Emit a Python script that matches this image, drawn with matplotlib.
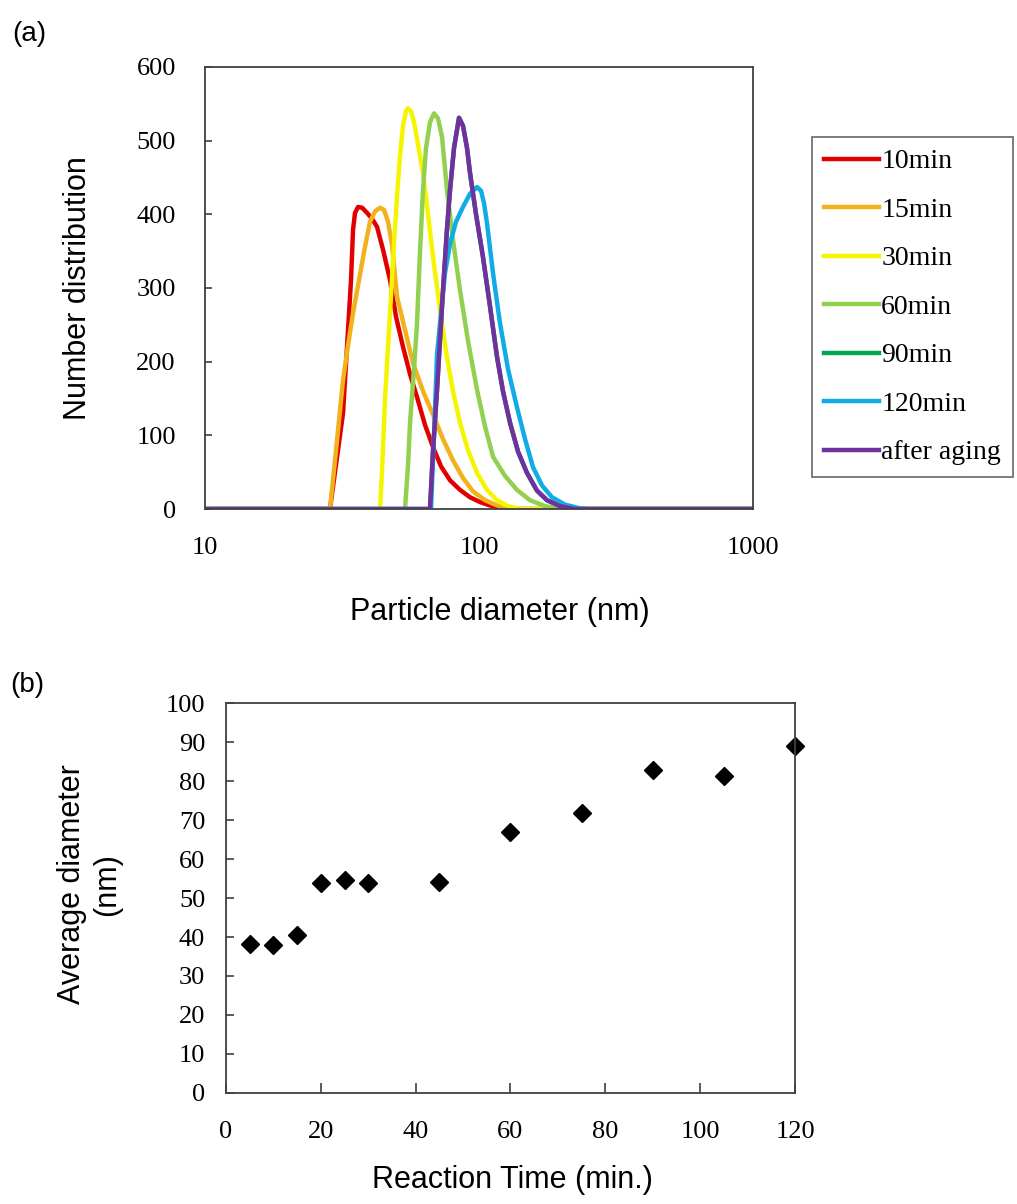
import matplotlib
matplotlib.use("Agg")
import matplotlib.pyplot as plt

# ---- panel (a): number distribution vs particle diameter ----
d_10 = [10, 28.58, 31.89, 32.98, 34.11, 34.69, 35.28, 36.18, 37.41, 39.02, 40.70, 42.44,
        44.63, 47.33, 49.78, 52.80, 56.01, 59.38, 63.54, 67.95, 72.65, 78.39, 85.25,
        92.73, 100.8, 109.7, 121.3, 135.3, 1000]
n_10 = [0, 0, 130, 220, 311, 379, 402, 410, 409, 402, 394, 383,
        352, 311, 261, 220, 183, 152, 114, 84, 58, 39, 26,
        16, 9.5, 4.8, 1.4, 0, 0]

d_15 = [10, 28.58, 30.07, 31.89, 33.26, 34.69, 36.48, 38.37, 40.02, 41.74, 43.52, 45.01,
        46.55, 48.14, 50.21, 53.70, 57.42, 62.46, 67.95, 73.89, 80.38, 87.43, 95.08,
        105.2, 116.4, 129.8, 141.1, 1000]
n_15 = [0, 0, 80, 175, 222, 266, 311, 356, 390, 404, 409, 406,
        390, 358, 288, 243, 198, 160, 128, 95, 66, 42, 24,
        12, 5, 1, 0, 0]

d_30 = [10, 43.52, 44.26, 45.39, 46.55, 47.74, 48.96, 50.21, 51.49, 52.80, 54.15, 55.07,
        56.47, 57.91, 59.89, 62.46, 65.14, 67.95, 72.06, 76.41, 80.38, 85.25, 91.19,
        98.33, 106.95, 116.35, 127.6, 141.1, 1000]
n_30 = [0, 0, 50, 150, 220, 290, 360, 425, 480, 520, 540, 544,
        540, 525, 495, 456, 400, 342, 270, 206, 160, 117, 80,
        49, 26, 12, 4, 0, 0]

d_60 = [10, 53.70, 55.07, 56.01, 57.91, 59.39, 60.91, 62.46, 64.06, 66.25, 68.52, 70.86,
        73.28, 76.41, 80.38, 85.25, 91.19, 98.33, 105.2, 112.5, 124.4, 137.6, 153.5,
        174.1, 197.5, 1000]
n_60 = [0, 0, 60, 117, 190, 252, 350, 433, 490, 525, 537, 530,
        505, 433, 365, 297, 228, 162, 112, 71, 45, 26, 12,
        4, 0, 0]

d_aging = [10, 66.25, 67.95, 70.27, 72.06, 73.89, 76.41, 78.39, 81.06, 84.53, 87.43, 90.41,
           92.73, 97.52, 103.4, 109.7, 116.4, 122.3, 129.8, 138.8, 149.7, 162.8, 177.1,
           197.5, 224.1, 1000]
n_aging = [0, 0, 80, 162, 230, 297, 380, 433, 490, 531, 520, 490,
           456, 400, 342, 275, 206, 160, 117, 78, 49, 25, 12,
           4, 0, 0]

# 90min curve lies hidden under the "after aging" curve in the original
d_90 = d_aging
n_90 = n_aging

d_120 = [10, 66.80, 68.52, 70.27, 72.06, 75.13, 78.39, 82.44, 87.43, 92.73, 98.33, 101.7,
         104.3, 106.95, 112.5, 119.3, 127.6, 137.6, 147.2, 157.4, 169.8, 184.7, 206.0,
         233.7, 254.2, 1000]
n_120 = [0, 0, 100, 210, 252, 320, 360, 390, 410, 428, 437, 432,
         415, 388, 320, 252, 190, 138, 95, 57, 32, 16, 6,
         1, 0, 0]

# ---- panel (b): average diameter vs reaction time ----
reaction_time = [5, 10, 15, 20, 25, 30, 45, 60, 75, 90, 105, 120]
avg_diameter = [38.3, 37.9, 40.4, 53.9, 54.6, 53.9, 54.2, 66.8, 71.9, 82.8, 81.3, 88.9]

serif = "Liberation Serif"
sans = "Liberation Sans"
spine_col = "#404040"

fig = plt.figure(figsize=(10.17, 12.04), dpi=100)

ax1 = fig.add_axes([0.2016, 0.5772, 0.5388, 0.3672])
series = [
    (d_10, n_10, "#E00000", "10min"),
    (d_15, n_15, "#F2B21C", "15min"),
    (d_30, n_30, "#F5F500", "30min"),
    (d_60, n_60, "#92D050", "60min"),
    (d_90, n_90, "#00A651", "90min"),
    (d_120, n_120, "#10ACE6", "120min"),
    (d_aging, n_aging, "#7030A0", "after aging"),
]
for xs, ys, col, lab in series:
    ax1.plot(xs, ys, color=col, lw=3.2, label=lab, solid_joinstyle="round")

ax1.set_xscale("log")
ax1.set_xlim(10, 1000)
ax1.set_ylim(0, 600)
ax1.set_xticks([10, 100, 1000])
ax1.set_xticklabels(["10", "100", "1000"])
ax1.minorticks_off()
ax1.set_yticks(range(0, 601, 100))
ax1.tick_params(axis="x", length=0, pad=20)
ax1.tick_params(axis="y", direction="in", length=5, width=1.2, color=spine_col, pad=21)
for lbl in ax1.get_xticklabels() + ax1.get_yticklabels():
    lbl.set_fontfamily(serif)
    lbl.set_fontsize(19)
for sp in ax1.spines.values():
    sp.set_color(spine_col)
    sp.set_linewidth(1.3)

ax1.set_xlabel("Particle diameter (nm)", fontfamily=sans, fontsize=22)
ax1.xaxis.set_label_coords(0.538, -0.2)
ax1.set_ylabel("Number distribution", fontfamily=sans, fontsize=22)
ax1.yaxis.set_label_coords(-0.205, 0.5)

leg = ax1.legend(loc="upper left", bbox_to_anchor=(812 / 1017, 1 - 137 / 1204),
                 bbox_transform=fig.transFigure, borderaxespad=0,
                 prop={"family": serif, "size": 20}, frameon=True, fancybox=False,
                 handlelength=1.98, handletextpad=0.08, labelspacing=0.83,
                 borderpad=0.43)
leg.get_frame().set_edgecolor("#505050")
leg.get_frame().set_linewidth(1.3)

# ---- panel (b) ----
ax2 = fig.add_axes([0.2222, 0.0922, 0.5595, 0.3239])
ax2.plot(reaction_time, avg_diameter, linestyle="none", marker="D",
         markersize=9, color="black", clip_on=False)
ax2.set_xlim(0, 120)
ax2.set_ylim(0, 100)
ax2.set_xticks(range(0, 121, 20))
ax2.set_yticks(range(0, 101, 10))
ax2.tick_params(axis="x", direction="in", length=7, width=1.2, color=spine_col, pad=20)
ax2.tick_params(axis="y", direction="in", length=6, width=1.2, color=spine_col, pad=15)
for lbl in ax2.get_xticklabels() + ax2.get_yticklabels():
    lbl.set_fontfamily(serif)
    lbl.set_fontsize(19)
for sp in ax2.spines.values():
    sp.set_color(spine_col)
    sp.set_linewidth(1.3)

ax2.set_xlabel("Reaction Time (min.)", fontfamily=sans, fontsize=22)
ax2.xaxis.set_label_coords(0.503, -0.185)
ax2.set_ylabel("Average diameter\n(nm)", fontfamily=sans, fontsize=22, multialignment="center")
ax2.yaxis.set_label_coords(-0.183, 0.535)

fig.text(12 / 1017, 1 - 34 / 1204, "(a)", fontfamily=sans, fontsize=20, va="center", ha="left")
fig.text(10 / 1017, 1 - 685 / 1204, "(b)", fontfamily=sans, fontsize=20, va="center", ha="left")

fig.savefig("out.png", dpi=100, facecolor="white")
